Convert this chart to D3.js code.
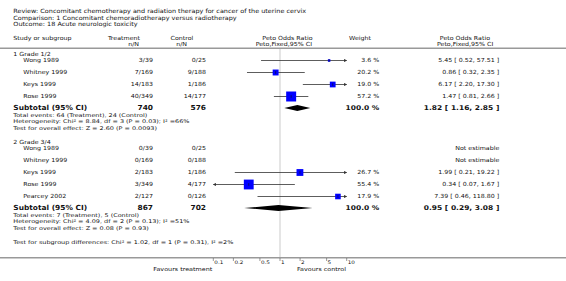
<!DOCTYPE html>
<html>
<head>
<meta charset="utf-8">
<script src="https://cdn.jsdelivr.net/npm/d3@7"></script>
<style>
  body { margin: 0; background: #fff; }
  text { font-family: "DejaVu Sans", sans-serif; fill: #111; }
</style>
</head>
<body>
<div id="chart"></div>
<script>
// header lines
const titleLines = [
    "Review:  Concomitant chemotherapy and radiation therapy for cancer of the uterine cervix",
    "Comparison:  1 Concomitant chemoradiotherapy versus radiotherapy",
    "Outcome:  18 Acute neurologic toxicity"
];

const groupNames = ["1 Grade 1/2", "2 Grade 3/4"];

// per group study rows
const studies = [
    ["Wong 1989", "Whitney 1999", "Keys 1999", "Rose 1999"],
    ["Wong 1989", "Whitney 1999", "Keys 1999", "Rose 1999", "Pearcey 2002"]
];
const treatment = [
    ["3/39", "7/169", "14/183", "40/349"],
    ["0/39", "0/169", "2/183", "3/349", "2/127"]
];
const control = [
    ["0/25", "9/188", "1/186", "14/177"],
    ["0/25", "0/188", "1/186", "4/177", "0/126"]
];
const weights = [
    [3.6, 20.2, 19.0, 57.2],
    [null, null, 26.7, 55.4, 17.9]
];
const orEst = [
    [5.45, 0.86, 6.17, 1.47],
    [null, null, 1.99, 0.34, 7.39]
];
const orLow = [
    [0.52, 0.32, 2.20, 0.81],
    [null, null, 0.21, 0.07, 0.46]
];
const orHigh = [
    [57.51, 2.35, 17.30, 2.66],
    [null, null, 19.22, 1.67, 118.80]
];

const subTreat = ["740", "867"];
const subCtrl = ["576", "702"];
const subEst = [1.82, 0.95];
const subLow = [1.16, 0.29];
const subHigh = [2.85, 3.08];

const statLines = [
    ["Total events: 64 (Treatment), 24 (Control)",
     "Heterogeneity: Chi² = 8.84, df = 3 (P = 0.03); I² =66%",
     "Test for overall effect: Z = 2.60 (P = 0.0093)"],
    ["Total events: 7 (Treatment), 5 (Control)",
     "Heterogeneity: Chi² = 4.09, df = 2 (P = 0.13); I² =51%",
     "Test for overall effect: Z = 0.08 (P = 0.93)"]
];
const subgroupTest = "Test for subgroup differences: Chi² = 1.02, df = 1 (P = 0.31), I² =2%";

const tickValues = [0.1, 0.2, 0.5, 1, 2, 5, 10];
const tickLabels = ["0.1", "0.2", "0.5", "1", "2", "5", "10"];

const width = 566, height = 281;
const svg = d3.select("#chart").append("svg")
    .attr("width", width).attr("height", height);

const x = d3.scaleLog().domain([0.1, 10]).range([213.3, 346.7]);
const sq = d3.scaleSqrt().domain([0, 100]).range([0, 13.2]);

const col = { left: 13.3, study: 23.3, treat: 153, ctrl: 206, weight: 379.3, result: 499.3 };

// text styles: font size, weight, and a reference width used to set horizontal stretch
const styles = {
    title: { size: 5.8, bold: false, sample: titleLines[0], target: 293.4 },
    body:  { size: 5.6, bold: false, sample: "Study or subgroup", target: 58.3 },
    stat:  { size: 5.0, bold: false, sample: statLines[0][0], target: 134.3 },
    sub:   { size: 7.0, bold: true,  sample: "Subtotal (95% CI)", target: 74 },
    subr:  { size: 6.6, bold: true,  sample: "1.82 [ 1.16, 2.85 ]", target: 75.7 },
    tick:  { size: 4.8, bold: false, sample: "Favours treatment", target: 52 },
    fav:   { size: 5.4, bold: false, sample: "Favours treatment", target: 59 }
};
const placed = [];

function txt(g, s, xx, yy, cat, anchor) {
    const st = styles[cat];
    const t = g.append("text")
        .attr("dy", "0.35em")
        .attr("text-anchor", anchor || "start")
        .attr("font-size", st.size)
        .attr("font-weight", st.bold ? "bold" : "normal")
        .text(s);
    placed.push({ t, xx, yy, cat });
    return t;
}

const fmt = d3.format(".2f");

// titles
titleLines.forEach((t, i) => txt(svg, t, col.left, 10.9 + i * 6.7, "title"));

// column headers
txt(svg, "Study or subgroup", col.left, 38.3, "body");
txt(svg, "Treatment", 140, 38.3, "body", "end");
txt(svg, "n/N", 139, 44.3, "body", "end");
txt(svg, "Control", 193.3, 38.3, "body", "end");
txt(svg, "n/N", 187, 44.3, "body", "end");
txt(svg, "Peto Odds Ratio", 312.5, 38.3, "body", "end");
txt(svg, "Peto,Fixed,95% CI", 312, 44.3, "body", "end");
txt(svg, "Weight", 360, 38.3, "body", "middle");
txt(svg, "Peto Odds Ratio", 490, 38.3, "body", "end");
txt(svg, "Peto,Fixed,95% CI", 493.3, 44.3, "body", "end");

// rules: header rule and null line
svg.append("line").attr("x1", 0).attr("x2", width).attr("y1", 48.3).attr("y2", 48.3)
    .attr("stroke", "#999").attr("stroke-width", 1.5);
svg.append("line").attr("x1", x(1)).attr("x2", x(1)).attr("y1", 49).attr("y2", 257)
    .attr("stroke", "#ddd").attr("stroke-width", 1.5);

const defs = svg.append("defs");
defs.append("marker").attr("id", "arrow").attr("viewBox", "0 0 6 6")
    .attr("refX", 5).attr("refY", 3).attr("markerWidth", 4).attr("markerHeight", 4)
    .attr("orient", "auto-start-reverse")
    .append("path").attr("d", "M0,0L6,3L0,6Z").attr("fill", "#333");

// group layout
const groupTop = [54, 142];
const rowStep = 12;

groupNames.forEach((gname, gi) => {
    const g = svg.append("g");
    const y0 = groupTop[gi];
    txt(g, gname, col.left, y0, "body");
    const rowY = i => y0 + 6.5 + i * rowStep;

    studies[gi].forEach((s, i) => {
        const y = rowY(i);
        txt(g, s, col.study, y, "body");
        txt(g, treatment[gi][i], col.treat, y, "body", "end");
        txt(g, control[gi][i], col.ctrl, y, "body", "end");
        const w = weights[gi][i];
        if (w == null) {
            txt(g, "Not estimable", col.result, y, "body", "end");
            return;
        }
        txt(g, w.toFixed(1) + " %", col.weight, y, "body", "end");
        txt(g, `${fmt(orEst[gi][i])} [ ${fmt(orLow[gi][i])}, ${fmt(orHigh[gi][i])} ]`, col.result, y, "body", "end");

        const lo = Math.max(orLow[gi][i], 0.1), hi = Math.min(orHigh[gi][i], 10);
        const ln = g.append("line").attr("x1", x(lo)).attr("x2", x(hi))
            .attr("y1", y).attr("y2", y).attr("stroke", "#333").attr("stroke-width", 0.8);
        if (orHigh[gi][i] > 10) ln.attr("marker-end", "url(#arrow)");
        if (orLow[gi][i] < 0.1) ln.attr("marker-start", "url(#arrow)");
        const s2 = Math.max(sq(w), 1);
        g.append("rect").attr("x", x(orEst[gi][i]) - s2 / 2).attr("y", y - s2 / 2)
            .attr("width", s2).attr("height", s2).attr("fill", "#0000ff");
        g.append("line").attr("x1", x(orEst[gi][i])).attr("x2", x(orEst[gi][i]))
            .attr("y1", y - 1.3).attr("y2", y + 1.3).attr("stroke", "#111").attr("stroke-width", 0.6);
    });

    const ys = rowY(studies[gi].length) - 0.5;
    txt(g, "Subtotal (95% CI)", col.left, ys, "sub");
    txt(g, subTreat[gi], col.treat, ys, "sub", "end");
    txt(g, subCtrl[gi], col.ctrl, ys, "sub", "end");
    txt(g, "100.0 %", col.weight, ys, "subr", "end");
    txt(g, `${fmt(subEst[gi])} [ ${fmt(subLow[gi])}, ${fmt(subHigh[gi])} ]`, col.result, ys, "subr", "end");

    g.append("path")
        .attr("d", `M${x(subLow[gi])},${ys}L${x(subEst[gi])},${ys - 2.9}L${x(subHigh[gi])},${ys}L${x(subEst[gi])},${ys + 2.9}Z`)
        .attr("fill", "#000");

    statLines[gi].forEach((t, i) => txt(g, t, col.left, ys + 7.5 + i * 6.2, "stat"));
});

txt(svg, subgroupTest, col.left, 242, "stat");

// axis
svg.append("line").attr("x1", 0).attr("x2", width).attr("y1", 257.7).attr("y2", 257.7)
    .attr("stroke", "#999").attr("stroke-width", 1.5);
const ax = svg.append("g");
tickValues.forEach((v, i) => {
    ax.append("line").attr("x1", x(v)).attr("x2", x(v)).attr("y1", 258).attr("y2", 261)
        .attr("stroke", "#555").attr("stroke-width", 0.6);
    txt(ax, tickLabels[i], x(v) + 1, 262, "tick");
});
txt(svg, "Favours treatment", 212.3, 269.3, "fav", "end");
txt(svg, "Favours control", 346, 269.3, "fav", "end");

// horizontal stretch per style so text widths match the reference
const probe = svg.append("g");
const kx = {};
Object.entries(styles).forEach(([cat, st]) => {
    const p = probe.append("text").attr("font-size", st.size)
        .attr("font-weight", st.bold ? "bold" : "normal").text(st.sample);
    kx[cat] = st.target / p.node().getComputedTextLength();
});
probe.remove();
placed.forEach(({ t, xx, yy, cat }) => {
    t.attr("transform", `translate(${xx},${yy}) scale(${kx[cat]},1)`);
});
</script>
</body>
</html>
